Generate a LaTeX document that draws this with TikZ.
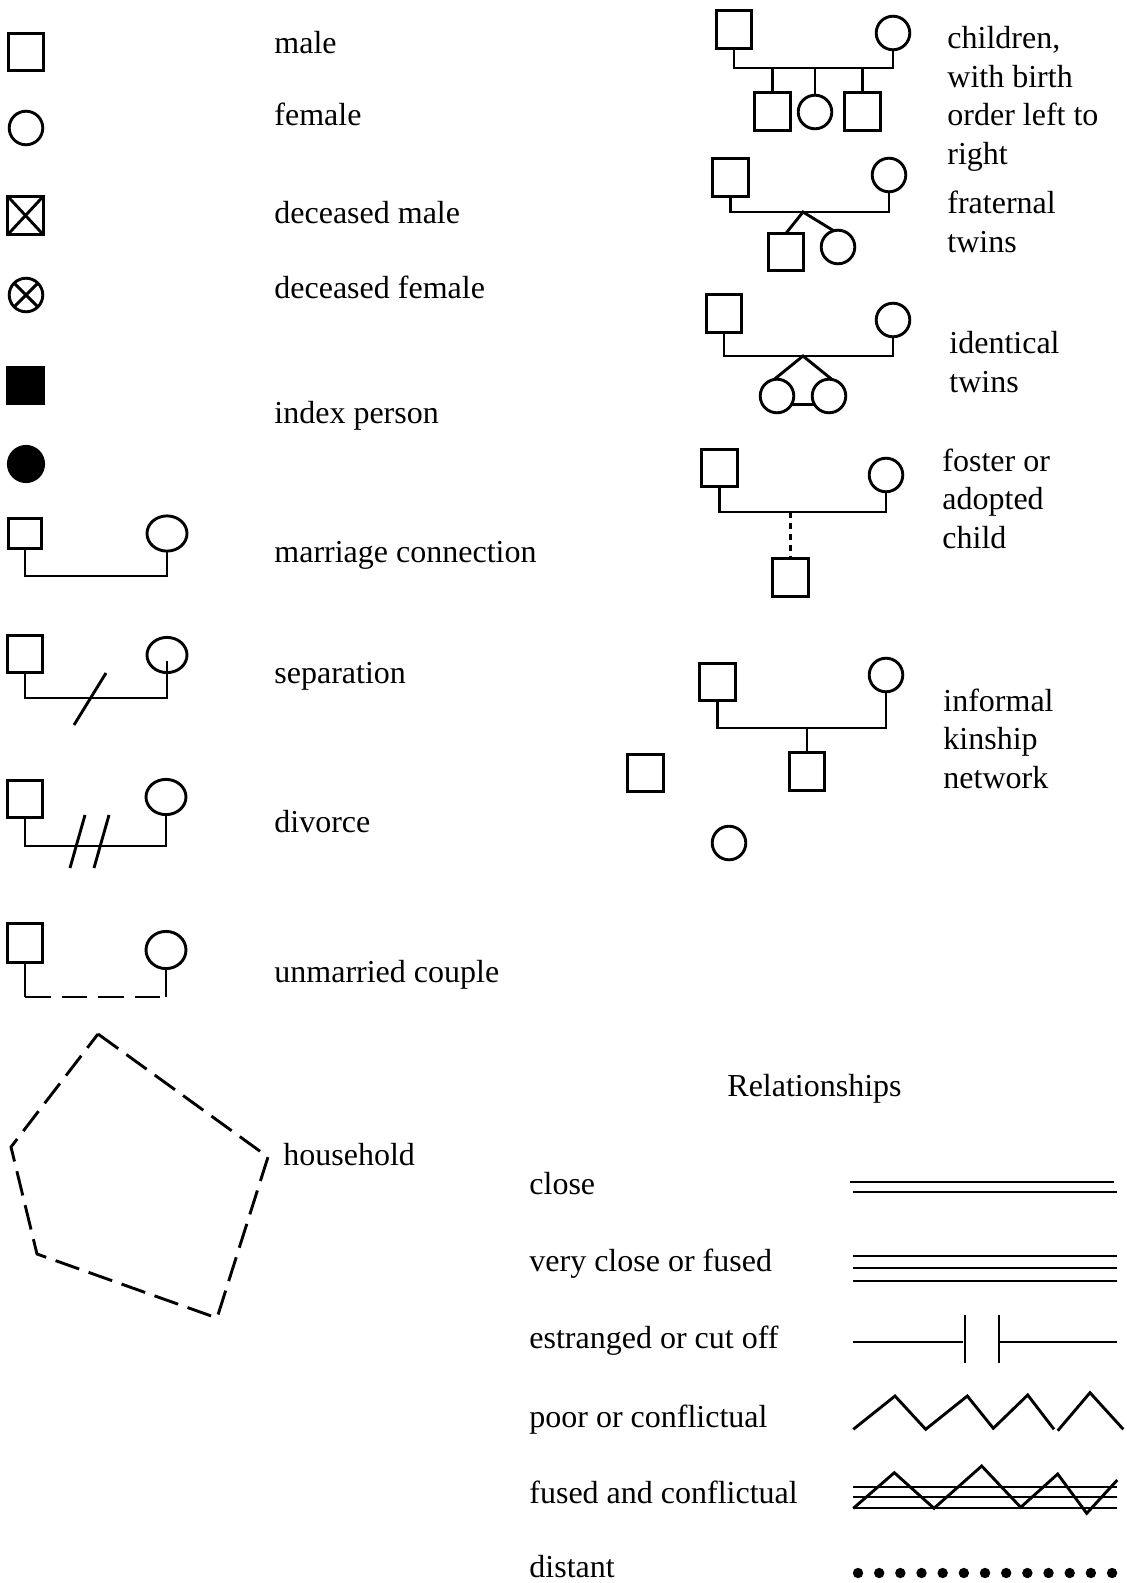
\documentclass[tikz,border=0pt]{standalone}
\usepackage{fontspec}
\setmainfont{Liberation Serif}
\usetikzlibrary{shapes.geometric}
\begin{document}
\begin{tikzpicture}[x=0.5pt,y=-0.5pt,
  every node/.style={font=\fontsize{16}{19.25}\selectfont},
  ln/.style={line width=1.45pt},
  sq/.style={draw,rectangle,line width=1.45pt,minimum width=17.75pt,minimum height=18.75pt,inner sep=0pt,outer sep=0pt},
  ci/.style={draw,circle,line width=1.45pt,minimum size=16.8pt,inner sep=0pt,outer sep=0pt},
  el/.style={draw,ellipse,line width=1.45pt,minimum width=20pt,minimum height=17.6pt,inner sep=0pt,outer sep=0pt},
  lbl/.style={anchor=base west,inner sep=0pt}
]
\useasboundingbox (0,0) rectangle (1126,1583);

% ---- left column: single symbols
\node[sq] (male) at (26,52) {};
\node[ci] (female) at (26,128) {};
\node[sq,minimum height=19.1pt] (dmale) at (25.5,215.5) {};
\draw[ln] (dmale.north west) -- (dmale.south east) (dmale.north east) -- (dmale.south west);
\node[ci] (dfem) at (26,295) {};
\draw[ln] (dfem.45) -- (dfem.225) (dfem.135) -- (dfem.-45);
\node[sq,fill=black,minimum height=17.75pt] (imale) at (25.5,385.5) {};
\node[ci,fill=black,minimum size=17.6pt] (ifem) at (26,464) {};

\node[lbl] (tmale) at (274,54) {male};
\node[lbl] (tfemale) at (274,126) {female};
\node[lbl] (tdmale) at (274,224) {deceased male};
\node[lbl] (tdfem) at (274,299) {deceased female};
\node[lbl] (tindex) at (274,423) {index person};

% ---- marriage
\node[sq,minimum height=15.2pt,minimum width=16.6pt] (ms) at (25,533.5) {};
\node[el] (mc) at (167,533.5) {};
\coordinate (mbar) at (0,576);
\draw[ln] (ms.south) -- (ms.south |- mbar) -| (mc.south);
\node[lbl] (tmarr) at (274,562) {marriage connection};

% ---- separation
\node[sq] (ss) at (25,654) {};
\node[el] (sc) at (167,655) {};
\coordinate (sbar) at (0,698);
\draw[ln] (ss.south) -- (ss.south |- sbar) -| ([yshift=6pt]sc.south);
\draw[ln] (74,725) -- (106,673);
\node[lbl] (tsep) at (274,683) {separation};

% ---- divorce
\node[sq] (ds) at (25,799) {};
\node[el] (dc) at (166,797) {};
\coordinate (dbar) at (0,846);
\draw[ln] (ds.south) -- (ds.south |- dbar) -| (dc.south);
\draw[ln] (70,868) -- (85,815);
\draw[ln] (94,868) -- (109,815);
\node[lbl] (tdiv) at (274,832) {divorce};

% ---- unmarried couple
\node[sq,minimum height=19.25pt] (us) at (25,943) {};
\node[el,minimum height=18.6pt] (uc) at (166,950) {};
\coordinate (ubar) at (0,997);
\draw[ln] (us.south) -- (us.south |- ubar) coordinate (ul);
\draw[ln] (uc.south) -- (uc.south |- ubar) coordinate (ur);
\draw[ln,dash pattern=on 12.75pt off 5.5pt] (ul) -- (ur);
\node[lbl] (tunm) at (274,982) {unmarried couple};

% ---- household
\draw[ln,dash pattern=on 12.5pt off 5pt] (98,1034) -- (268,1157) -- (217,1318) -- (37,1254) -- (11,1147) -- cycle;
\node[lbl] (thh) at (283,1165) {household};

% ---- children
\node[sq] (f1) at (734,29.5) {};
\node[ci] (m1) at (893,33) {};
\coordinate (b1) at (0,68);
\draw[ln] (f1.south) -- (f1.south |- b1) -| (m1.south);
\node[sq] (c1) at (772.5,111.5) {};
\node[ci] (c2) at (815,112) {};
\node[sq] (c3) at (862.5,111.5) {};
\draw[ln] (c1.north) -- (c1.north |- b1) (c2.north) -- (c2.north |- b1) (c3.north) -- (c3.north |- b1);
\node[lbl] (tchild) at (947,49) {\vtop{\hbox{children,}\hbox{with birth}\hbox{order left to}\hbox{right}}};

% ---- fraternal twins
\node[sq] (f2) at (730.5,177.5) {};
\node[ci] (m2) at (889,175) {};
\coordinate (b2) at (0,212);
\draw[ln] (f2.south) -- (f2.south |- b2) -| (m2.south);
\coordinate (a2) at (803,212);
\node[sq] (t1) at (786,252) {};
\node[ci] (t2) at (838,247) {};
\draw[ln] (t1.north) -- (a2) -- (t2.105);
\node[lbl] (tfrat) at (947,214) {\vtop{\hbox{fraternal}\hbox{twins}}};

% ---- identical twins
\node[sq] (f3) at (724,313.5) {};
\node[ci] (m3) at (893,320) {};
\coordinate (b3) at (0,356);
\draw[ln] (f3.south) -- (f3.south |- b3) -| (m3.south);
\coordinate (a3) at (803,356);
\node[ci] (i1) at (777,396) {};
\node[ci] (i2) at (829,396) {};
\draw[ln] (i1.100) -- (a3) -- (i2.80);
\draw[ln] (i1.-30) -- (i2.-150);
\node[lbl] (tident) at (949,354) {\vtop{\hbox{identical}\hbox{twins}}};

% ---- foster
\node[sq] (f4) at (719.5,468) {};
\node[ci] (m4) at (886,475) {};
\coordinate (b4) at (0,512);
\draw[ln] (f4.south) -- (f4.south |- b4) -| (m4.south);
\node[sq] (fc) at (790.5,577.5) {};
\draw[ln,dash pattern=on 3pt off 2.5pt] (fc.north |- b4) -- ([yshift=1pt]fc.north);
\node[lbl] (tfost) at (942,471) {\vtop{\hbox{foster or}\hbox{adopted}\hbox{child}}};

% ---- informal kinship
\node[sq] (f5) at (717.5,682) {};
\node[ci] (m5) at (886,675) {};
\coordinate (b5) at (0,728);
\draw[ln] (f5.south) -- (f5.south |- b5) -| (m5.south);
\node[sq] (k1) at (807,771.5) {};
\draw[ln] (k1.north) -- (k1.north |- b5);
\node[sq] (k2) at (645.5,773) {};
\node[ci] (k3) at (729,843) {};
\node[lbl] (tinf) at (943,711) {\vtop{\hbox{informal}\hbox{kinship}\hbox{network}}};

% ---- relationships
\node[lbl] (trel) at (727,1096) {Relationships};
\node[lbl] (tclose) at (529,1194) {close};
\node[lbl] (tvclose) at (529,1271) {very close or fused};
\node[lbl] (testr) at (529,1348) {estranged or cut off};
\node[lbl] (tpoor) at (529,1427) {poor or conflictual};
\node[lbl] (tfused) at (529,1503) {fused and conflictual};
\node[lbl,text depth=0pt] (tdist) at (529,1577) {distant};

\draw[ln] (850,1182) -- (1114,1182);
\draw[ln] (853,1192) -- (1117,1192);

\draw[ln] (853,1256) -- (1117,1256);
\draw[ln] (853,1268) -- (1117,1268);
\draw[ln] (853,1281) -- (1117,1281);

\draw[ln] (853,1342) -- (963,1342);
\draw[ln] (965,1315) -- (965,1363);
\draw[ln] (999,1315) -- (999,1363);
\draw[ln] (999,1342) -- (1117,1342);

\draw[ln] (853.3,1429.3) -- (895,1396) -- (925.7,1429.3) -- (967.3,1396) -- (993.3,1428.3) -- (1027.7,1395) -- (1054,1429.3);
\draw[ln] (1057.7,1430.7) -- (1090,1392.7) -- (1123.3,1429.3);

\draw[ln] (853,1487) -- (1117,1487);
\draw[ln] (853,1497) -- (1117,1497);
\draw[ln] (853,1508) -- (1117,1508);
\draw[ln] (853.3,1508.3) -- (894.3,1472.7) -- (934,1508.3) -- (981.7,1466) -- (1020.7,1507.3) -- (1057.7,1474) -- (1086.7,1513.3) -- (1117.3,1480);

\foreach \i in {0,...,12} \fill (858+21.17*\i,1573) circle (2.6pt);
\end{tikzpicture}
\end{document}
